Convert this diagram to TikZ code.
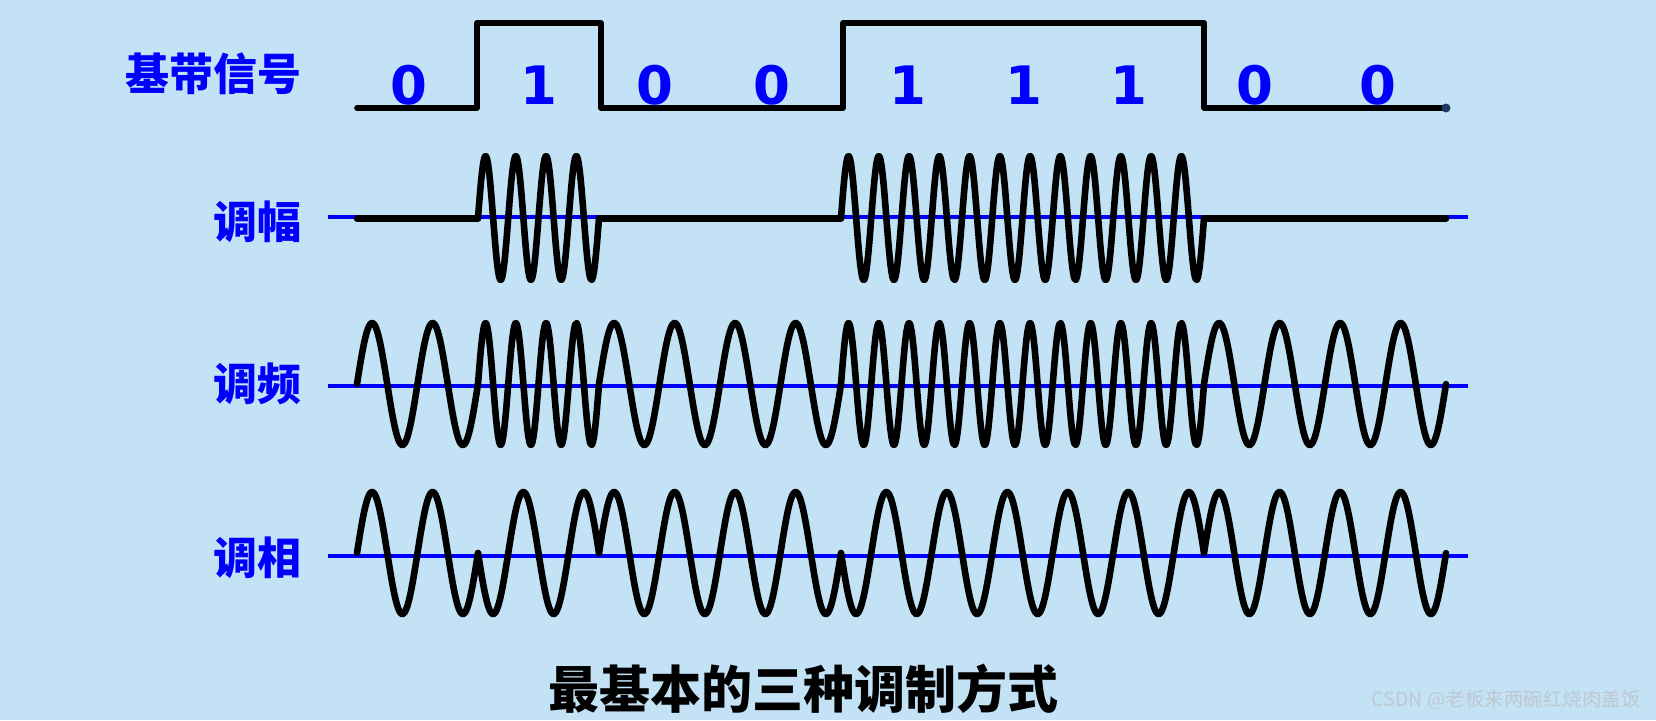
\documentclass[tikz,border=0pt]{standalone}
\usepackage{fontspec}
\newfontfamily\cjk{Noto Sans CJK SC}
\newfontfamily\digitfont{DejaVu Sans}
\definecolor{bgblue}{RGB}{195,226,246}
\definecolor{lblblue}{RGB}{0,0,255}
\definecolor{dotnavy}{RGB}{31,56,100}
\definecolor{wmgray}{RGB}{190,200,208}
\begin{document}
\begin{tikzpicture}[x=1pt,y=-1pt,
  wave/.style={line width=6.6pt, line cap=round, line join=round, black},
  baseline/.style={line width=5.8pt, line cap=round, line join=round, black},
  axisline/.style={line width=4.5pt, lblblue},
  lbl/.style={font={\cjk\bfseries\fontsize{44}{44}\selectfont}, text=lblblue, anchor=east, inner sep=0pt},
  digit/.style={font={\digitfont\bfseries\fontsize{53}{53}\selectfont}, text=lblblue, anchor=base, inner sep=0pt},
]
\fill[bgblue] (0,0) rectangle (1656,720);
\useasboundingbox (0,0) rectangle (1656,720);

% labels
\node[lbl] (bb) at (302,74) {基带信号};
\node[lbl] (am) at (302,222) {调幅};
\node[lbl] (fm) at (302,384) {调频};
\node[lbl] (pm) at (302,558) {调相};

% baseband digits
\foreach \d/\xx [count=\k] in {0/409,1/539,0/655,0/772,1/908,1/1024,1/1129,0/1255,0/1378}
  \node[digit] (d\k) at (\xx,104) {\d};

% baseband signal
\draw[baseline] (357,108) -| (477,23) -| (601,108) -| (843,23) -| (1204,108) -- (1446,108);
\fill[dotnavy] (1446,108) circle (4.5);

% axis lines
\draw[axisline] (328,217) -- (1468,217);
\draw[axisline] (328,386) -- (1468,386);
\draw[axisline] (328,556) -- (1468,556);

% waveforms
\foreach \b [count=\i from 0] in {0,1,0,0,1,1,1,0,0} {
  \pgfmathsetmacro\xo{357+121*\i}
  \pgfmathsetmacro\cyc{\b==1 ? 4 : 2}
  \pgfmathsetmacro\sg{\b==1 ? -1 : 1}
  % AM
  \ifnum\b=1
    \draw[wave] plot[domain=0:1, samples=121] ({\xo+121*\x},{218-62*sin(1440*\x)});
  \else
    \draw[wave] (\xo,218.5) -- ({\xo+121},218.5);
  \fi
  % FM
  \draw[wave] plot[domain=0:1, samples=121] ({\xo+121*\x},{384-61*sin(360*\cyc*\x)});
  % PM
  \draw[wave] plot[domain=0:1, samples=121] ({\xo+121*\x},{553-61*\sg*sin(720*\x)});
}

% title and watermark
\node[font={\cjk\bfseries\fontsize{51}{51}\selectfont}, inner sep=0pt] (title) at (803,689) {最基本的三种调制方式};
\node[font={\cjk\fontsize{19.5}{19.5}\selectfont}, text=wmgray, anchor=east, inner sep=0pt] (wm) at (1641,700) {CSDN @老板来两碗红烧肉盖饭};
\end{tikzpicture}
\end{document}
